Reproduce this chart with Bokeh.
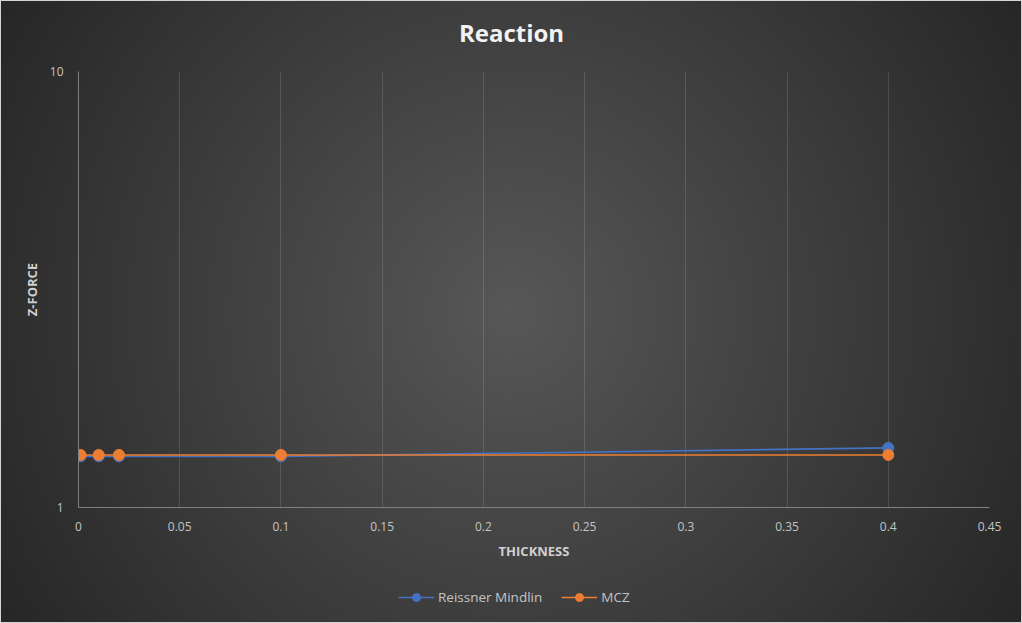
from bokeh.plotting import figure
from bokeh.models import (Range1d, FixedTicker, Legend, LegendItem, ColumnDataSource, Label)
from bokeh.layouts import column
from bokeh.embed import file_html
from bokeh.resources import INLINE

# ---- data ----
thickness = [0.001, 0.01, 0.02, 0.1, 0.4]
reissner_mindlin = [1.31, 1.31, 1.31, 1.31, 1.37]
mcz = [1.32, 1.32, 1.32, 1.32, 1.32]
x_ticks = [0, 0.05, 0.1, 0.15, 0.2, 0.25, 0.3, 0.35, 0.4, 0.45]
x_tick_labels = ["0", "0.05", "0.1", "0.15", "0.2", "0.25", "0.3", "0.35", "0.4", "0.45"]
y_ticks = [1, 10]
y_tick_labels = ["1", "10"]
series_names = ["Reissner Mindlin", "MCZ"]
chart_title = "Reaction"

FONT = "Open Sans"
BLUE = "#4472C4"
ORANGE = "#ED7D31"


def strip(height, y_range):
    f = figure(width=1022, height=height, output_backend="svg", toolbar_location=None,
               x_range=Range1d(0, 0.45), y_range=y_range,
               min_border=0, x_axis_location=None, y_axis_location=None)
    f.border_fill_color = None
    f.background_fill_color = None
    f.outline_line_color = None
    f.grid.visible = False
    return f


# ---- title strip ----
pt = strip(60, Range1d(0, 1))
pt.add_layout(Label(x=433, y=28, x_units="screen", y_units="screen", text=chart_title,
                    text_align="center", text_baseline="middle", text_font=FONT,
                    text_font_size="24px", text_font_style="bold", text_color="#f2f2f2"))

# ---- main chart ----
p = figure(width=1022, height=515, output_backend="svg", toolbar_location=None,
           y_axis_type="log", x_range=Range1d(0, 0.45), y_range=Range1d(1, 10),
           min_border_left=78, min_border_right=33, min_border_top=11, min_border_bottom=68)
p.border_fill_color = None
p.background_fill_color = None
p.outline_line_color = None

src_rm = ColumnDataSource(dict(x=thickness, y=reissner_mindlin))
src_mcz = ColumnDataSource(dict(x=thickness, y=mcz))
sources = [src_rm, src_mcz]
colors = [BLUE, ORANGE]

for src, color in zip(sources, colors):
    p.line("x", "y", source=src, line_color=color, line_width=1.6)
    p.scatter("x", "y", source=src, size=11, fill_color=color, line_color=color)

xa = p.xaxis[0]
xa.ticker = FixedTicker(ticks=x_ticks)
xa.major_label_overrides = {t: l for t, l in zip(x_ticks, x_tick_labels)}
ya = p.yaxis[0]
ya.ticker = FixedTicker(ticks=y_ticks)
ya.major_label_overrides = {t: l for t, l in zip(y_ticks, y_tick_labels)}

for ax in (xa, ya):
    ax.major_tick_line_color = None
    ax.minor_tick_line_color = None
    ax.axis_line_color = "#7f7f7f"
    ax.axis_line_width = 1
    ax.major_label_text_font = FONT
    ax.major_label_text_font_size = "12px"
    ax.major_label_text_color = "#c4c4c4"
    ax.axis_label_text_font = FONT
    ax.axis_label_text_font_size = "13px"
    ax.axis_label_text_font_style = "bold"
    ax.axis_label_text_color = "#d0d0d0"

xa.axis_label = "THICKNESS"
xa.major_label_standoff = 8
xa.axis_label_standoff = 8
ya.axis_label = "Z-FORCE"
ya.major_label_standoff = 9
ya.axis_label_standoff = 6
ya.major_label_orientation = "horizontal"

p.xgrid[0].ticker = FixedTicker(ticks=x_ticks)
p.ygrid[0].ticker = FixedTicker(ticks=y_ticks)
p.xgrid.grid_line_color = "#ffffff"
p.xgrid.grid_line_alpha = 0.13
p.ygrid.grid_line_color = "#ffffff"
p.ygrid.grid_line_alpha = 0.13

# ---- legend strip (series drawn outside its visible range; only the legend shows) ----
pl = strip(48, Range1d(10, 20))
items = []
for name, src, color in zip(series_names, sources, colors):
    rl = pl.line("x", "y", source=src, line_color=color, line_width=1.6)
    rs = pl.scatter("x", "y", source=src, size=9, fill_color=color, line_color=color)
    items.append(LegendItem(label=name, renderers=[rl, rs]))

legend = Legend(items=items, orientation="horizontal", location=(320, 16),
                background_fill_alpha=0, border_line_color=None,
                label_text_font=FONT, label_text_font_size="13.5px", label_text_color="#c4c4c4",
                glyph_width=36, glyph_height=20, label_standoff=4, spacing=19,
                padding=0, margin=0)
pl.add_layout(legend, "center")

layout = column(pt, p, pl, spacing=0)
layout.styles = {
    "background": "radial-gradient(circle farthest-corner at 50% 50%, #575757 0%, #262626 100%)",
    "box-shadow": "inset 0 0 0 1px #d4d4d4",
}

open("out.html", "w").write(file_html(layout, INLINE))
